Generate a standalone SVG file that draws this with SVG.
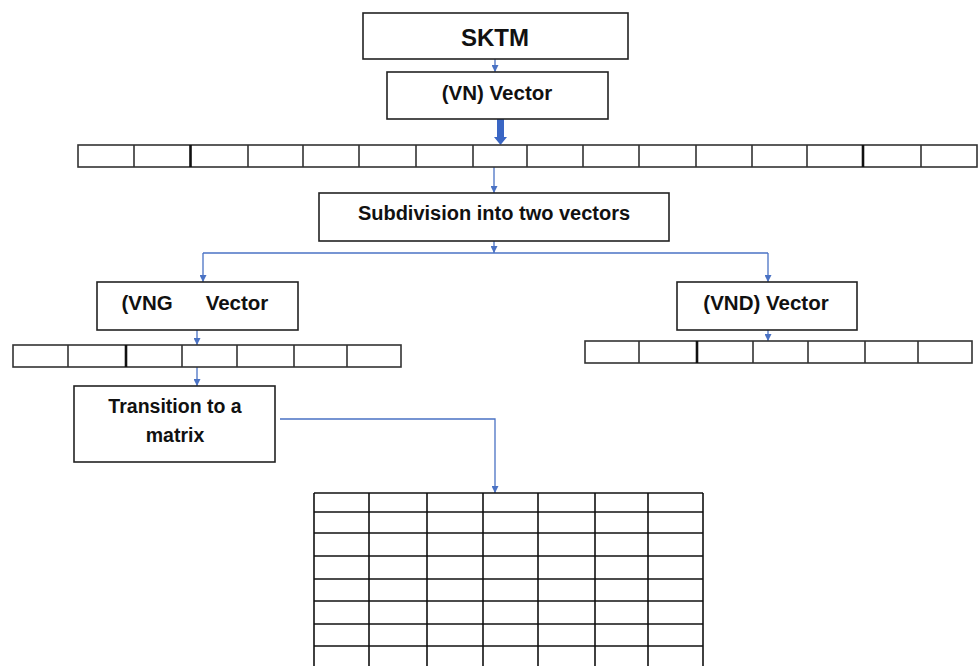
<svg xmlns="http://www.w3.org/2000/svg" width="978" height="666" viewBox="0 0 978 666">
<style>
.box{fill:#fff;stroke:#222;stroke-width:1.6}
.cell{fill:#fff;stroke:#333;stroke-width:1.6}
.lbl{font-family:"Liberation Sans",Arial,sans-serif;font-weight:bold;fill:#111;text-anchor:middle}
.con{fill:none;stroke:#4a72c4;stroke-width:1.3}
.grid line{stroke:#111;stroke-width:1.6}
</style>
<defs>
<marker id="ah" viewBox="0 0 10 10" refX="10" refY="5" markerWidth="7" markerHeight="7" markerUnits="userSpaceOnUse" orient="auto">
<path d="M0,0 L10,5 L0,10 z" fill="#4a72c4"/>
</marker>
</defs>

<g id="connectors">
<line class="con" x1="495" y1="59" x2="495" y2="72" marker-end="url(#ah)"/>
<path d="M497,112 L504,112 L504,137 L507,137 L500.5,145 L494,137 L497,137 z" fill="#3a66c4"/>
<line class="con" x1="494" y1="167" x2="494" y2="193" marker-end="url(#ah)"/>
<line class="con" x1="494" y1="241" x2="494" y2="253" marker-end="url(#ah)"/>
<line class="con" x1="203" y1="253" x2="768" y2="253"/>
<line class="con" x1="203" y1="253" x2="203" y2="282" marker-end="url(#ah)"/>
<line class="con" x1="768" y1="253" x2="768" y2="282" marker-end="url(#ah)"/>
<line class="con" x1="197" y1="330" x2="197" y2="345" marker-end="url(#ah)"/>
<line class="con" x1="768" y1="330" x2="768" y2="341" marker-end="url(#ah)"/>
<line class="con" x1="197" y1="367" x2="197" y2="386" marker-end="url(#ah)"/>
<polyline class="con" points="280,419 495,419 495,493" marker-end="url(#ah)"/>
</g>

<g id="sktm">
<rect class="box" x="363" y="13" width="265" height="46"/>
<text class="lbl" x="495" y="46" font-size="24">SKTM</text>
</g>

<g id="vn-vector">
<rect class="box" x="387" y="72" width="221" height="47"/>
<text class="lbl" x="497" y="100" font-size="20.5">(VN) Vector</text>
</g>

<g id="vn-array">
<rect class="cell" x="78" y="145" width="899" height="22"/>
<g stroke="#333" stroke-width="1.6">
<line x1="134" y1="145" x2="134" y2="167"/>
<line x1="190.5" y1="145" x2="190.5" y2="167" stroke-width="2.6" stroke="#111"/>
<line x1="248" y1="145" x2="248" y2="167"/>
<line x1="303" y1="145" x2="303" y2="167"/>
<line x1="359" y1="145" x2="359" y2="167"/>
<line x1="416" y1="145" x2="416" y2="167"/>
<line x1="473" y1="145" x2="473" y2="167"/>
<line x1="527" y1="145" x2="527" y2="167"/>
<line x1="583" y1="145" x2="583" y2="167"/>
<line x1="639" y1="145" x2="639" y2="167"/>
<line x1="696" y1="145" x2="696" y2="167"/>
<line x1="752" y1="145" x2="752" y2="167"/>
<line x1="807" y1="145" x2="807" y2="167"/>
<line x1="863" y1="145" x2="863" y2="167" stroke-width="2.6" stroke="#111"/>
<line x1="921" y1="145" x2="921" y2="167"/>
</g>
</g>

<g id="subdivision">
<rect class="box" x="319" y="193" width="350" height="48"/>
<text class="lbl" x="494" y="220" font-size="20">Subdivision into two vectors</text>
</g>

<g id="vng-vector">
<rect class="box" x="97" y="282" width="201" height="48"/>
<text class="lbl" x="147" y="310" font-size="20.5">(VNG</text>
<text class="lbl" x="237" y="310" font-size="20.5">Vector</text>
</g>

<g id="vng-array">
<rect class="cell" x="13" y="345" width="388" height="22"/>
<g stroke="#333" stroke-width="1.6">
<line x1="68" y1="345" x2="68" y2="367"/>
<line x1="126" y1="345" x2="126" y2="367" stroke-width="2.6" stroke="#111"/>
<line x1="182" y1="345" x2="182" y2="367"/>
<line x1="237" y1="345" x2="237" y2="367"/>
<line x1="294" y1="345" x2="294" y2="367"/>
<line x1="347" y1="345" x2="347" y2="367"/>
</g>
</g>

<g id="vnd-vector">
<rect class="box" x="677" y="282" width="180" height="48"/>
<text class="lbl" x="766" y="310" font-size="20.5">(VND) Vector</text>
</g>

<g id="vnd-array">
<rect class="cell" x="585" y="341" width="387" height="22"/>
<g stroke="#333" stroke-width="1.6">
<line x1="639" y1="341" x2="639" y2="363"/>
<line x1="697" y1="341" x2="697" y2="363" stroke-width="2.6" stroke="#111"/>
<line x1="753" y1="341" x2="753" y2="363"/>
<line x1="808" y1="341" x2="808" y2="363"/>
<line x1="865" y1="341" x2="865" y2="363"/>
<line x1="918" y1="341" x2="918" y2="363"/>
</g>
</g>

<g id="transition">
<rect class="box" x="74" y="386" width="201" height="76"/>
<text class="lbl" x="175" y="413" font-size="19.5">Transition to a</text>
<text class="lbl" x="175" y="442" font-size="19.5">matrix</text>
</g>

<g id="matrix" class="grid">
<line x1="314" y1="493" x2="703" y2="493"/>
<line x1="314" y1="512" x2="703" y2="512"/>
<line x1="314" y1="533" x2="703" y2="533"/>
<line x1="314" y1="556" x2="703" y2="556" stroke-width="3"/>
<line x1="314" y1="579" x2="703" y2="579" stroke-width="3"/>
<line x1="314" y1="601" x2="703" y2="601"/>
<line x1="314" y1="624" x2="703" y2="624" stroke-width="3"/>
<line x1="314" y1="646" x2="703" y2="646"/>
<line x1="314" y1="493" x2="314" y2="666"/>
<line x1="369" y1="493" x2="369" y2="666"/>
<line x1="427" y1="493" x2="427" y2="666" stroke-width="3"/>
<line x1="483" y1="493" x2="483" y2="666"/>
<line x1="538" y1="493" x2="538" y2="666"/>
<line x1="595" y1="493" x2="595" y2="666"/>
<line x1="648" y1="493" x2="648" y2="666"/>
<line x1="703" y1="493" x2="703" y2="666"/>
</g>
</svg>
